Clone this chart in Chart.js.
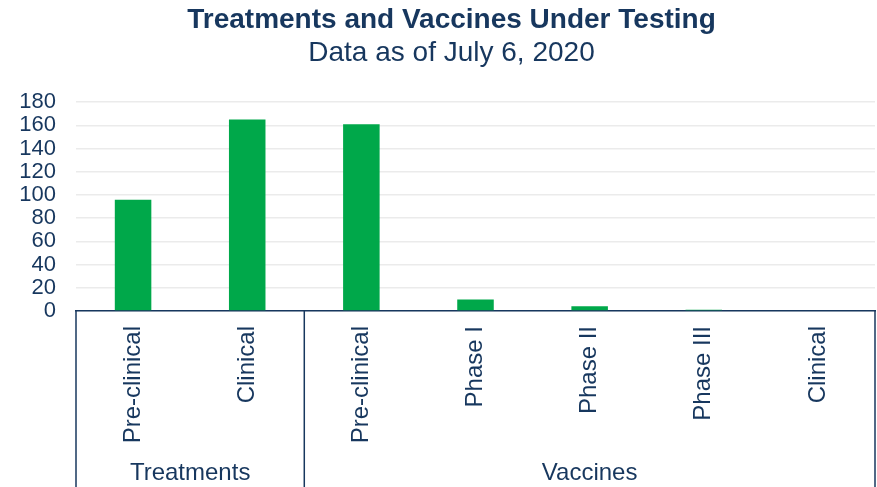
<!DOCTYPE html>
<html>
<head>
<meta charset="utf-8">
<script src="https://cdn.jsdelivr.net/npm/chart.js@4/dist/chart.umd.min.js"></script>
<style>
  html, body { margin: 0; padding: 0; background: #fff; }
  #wrap { width: 877px; height: 487px; }
</style>
</head>
<body>
<div id="wrap"><canvas id="myChart"></canvas></div>
<script>
// data
const categories = ['Pre-clinical', 'Clinical', 'Pre-clinical', 'Phase I', 'Phase II', 'Phase III', 'Clinical'];
const groupNames = ['Treatments', 'Vaccines'];
const groupSizes = [2, 5];
const counts = [96, 165, 161, 10, 4, 1, 0];
const yMax = 180;
const yStep = 20;

const navy = '#17375E';
const green = '#00A84A';
const fontFamily = '"Liberation Sans", Arial, sans-serif';

// the titles sit a little right of the page centre in the original
const shiftTitles = {
  id: 'shiftTitles',
  afterLayout(chart) {
    chart.boxes.forEach(box => {
      if (box.options && box.options.text !== undefined && box.position === 'top') {
        box.left += 28;
      }
    });
  }
};

// draws the box lines and the group names under the rotated labels
const groupAxis = {
  id: 'groupAxis',
  afterDraw(chart) {
    const ctx = chart.ctx;
    const x = chart.scales.x;
    const bottom = chart.height;
    let edges = [x.left];
    let start = 0;
    for (let g = 0; g < groupSizes.length; g++) {
      const end = start + groupSizes[g] - 1;
      if (g < groupSizes.length - 1) {
        edges.push((x.getPixelForTick(end) + x.getPixelForTick(end + 1)) / 2);
      } else {
        edges.push(x.right);
      }
      start = end + 1;
    }
    ctx.save();
    ctx.strokeStyle = navy;
    ctx.lineWidth = 1.5;
    for (let i = 0; i < edges.length; i++) {
      ctx.beginPath();
      ctx.moveTo(edges[i], x.top);
      ctx.lineTo(edges[i], bottom);
      ctx.stroke();
    }
    ctx.fillStyle = navy;
    ctx.font = '24px ' + fontFamily;
    ctx.textAlign = 'center';
    ctx.textBaseline = 'middle';
    for (let g = 0; g < groupNames.length; g++) {
      ctx.fillText(groupNames[g], (edges[g] + edges[g + 1]) / 2, 473);
    }
    ctx.restore();
  }
};

const ctx = document.getElementById('myChart');

new Chart(ctx, {
  type: 'bar',
  data: {
    labels: categories,
    datasets: [{
      label: 'Count',
      data: counts,
      backgroundColor: green,
      borderWidth: 0,
      barPercentage: 0.32,
      categoryPercentage: 1
    }]
  },
  options: {
    responsive: true,
    maintainAspectRatio: false,
    animation: false,
    layout: { padding: { right: 2 } },
    plugins: {
      legend: { display: false },
      tooltip: { enabled: false },
      title: {
        display: true,
        text: 'Treatments and Vaccines Under Testing',
        color: navy,
        font: { family: fontFamily, size: 28, weight: 'bold' },
        padding: { top: 3, bottom: 0 }
      },
      subtitle: {
        display: true,
        text: 'Data as of July 6, 2020',
        color: navy,
        font: { family: fontFamily, size: 28 },
        padding: { top: 0, bottom: 32 }
      }
    },
    scales: {
      x: {
        grid: { display: false },
        border: { display: true, color: navy, width: 1.5 },
        ticks: {
          color: navy,
          font: { family: fontFamily, size: 24 },
          minRotation: 90,
          maxRotation: 90,
          padding: 7,
          autoSkip: false
        },
        afterFit(scale) { scale.height = 176; }
      },
      y: {
        min: 0,
        max: yMax,
        grid: { color: '#ebebeb', lineWidth: 1.5, drawTicks: false },
        border: { display: false },
        ticks: {
          stepSize: yStep,
          autoSkip: false,
          color: navy,
          font: { family: fontFamily, size: 22 },
          padding: 20
        },
        afterFit(scale) { scale.width = 76; }
      }
    }
  },
  plugins: [shiftTitles, groupAxis]
});
</script>
</body>
</html>
